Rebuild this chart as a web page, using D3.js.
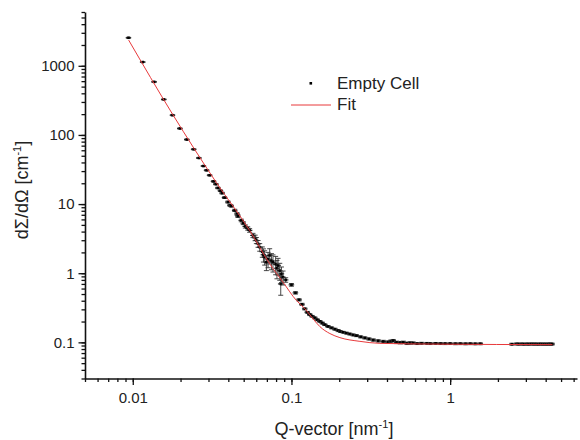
<!DOCTYPE html>
<html>
<head>
<meta charset="utf-8">
<script src="https://cdn.jsdelivr.net/npm/d3@7"></script>
<style>
body { margin: 0; background: #fff; }
text { font-family: "Liberation Sans", Arial, sans-serif; fill: #222; }
</style>
</head>
<body>
<div id="chart"></div>
<script>
var width = 580,
	height = 440;

// measured points: q [nm^-1], intensity [cm^-1], intensity error
var qValues = [0.0094, 0.01155, 0.01363, 0.01568, 0.0178, 0.0198, 0.0219, 0.0242, 0.0261, 0.0279,
	0.0292, 0.0305, 0.0323, 0.0334, 0.0344, 0.0357, 0.0366, 0.0379, 0.0398, 0.041,
	0.0418, 0.0439, 0.0454, 0.046, 0.0483, 0.0497, 0.0512, 0.053, 0.0545, 0.0572,
	0.059, 0.0601, 0.0616, 0.0631, 0.0655, 0.0666, 0.0678, 0.0695, 0.0712, 0.0729,
	0.0748, 0.0765, 0.0795, 0.081, 0.0823, 0.0844, 0.0856, 0.0865, 0.0885, 0.092,
	0.1, 0.106, 0.1117, 0.1165, 0.1213, 0.126, 0.1305, 0.135, 0.1403, 0.1455,
	0.151, 0.1565, 0.1623, 0.17, 0.179, 0.188, 0.197, 0.204, 0.212, 0.222,
	0.233, 0.245, 0.257, 0.273, 0.29, 0.308, 0.328, 0.352, 0.379, 0.405,
	0.423, 0.438, 0.46, 0.485, 0.507, 0.535, 0.56, 0.586, 0.62, 0.66,
	0.713, 0.75, 0.81, 0.87, 0.93, 1.0, 1.08, 1.16, 1.25, 1.34,
	1.44, 1.55, 2.45, 2.62, 2.71, 2.83, 2.92, 3.04, 3.13, 3.25,
	3.36, 3.47, 3.58, 3.7, 3.82, 3.94, 4.06, 4.18, 4.29, 4.39];
var intensity = [2545, 1132, 586, 326, 193, 124, 85.8, 62, 46.4, 35.5,
	30.8, 26.1, 21.3, 19.4, 17.1, 15.6, 14.4, 12.4, 10.7, 9.6,
	9.35, 8.11, 7.2, 6.7, 5.8, 5.3, 4.75, 4.45, 4.16, 3.52,
	3.25, 2.98, 2.67, 2.38, 2.05, 1.85, 1.71, 1.44, 1.6, 1.81,
	1.52, 1.44, 1.35, 1.18, 1.29, 1.09, 0.7, 0.98, 0.875, 0.8,
	0.679, 0.52, 0.412, 0.355, 0.305, 0.272, 0.252, 0.238, 0.226, 0.212,
	0.201, 0.19, 0.18, 0.17, 0.162, 0.155, 0.148, 0.143, 0.14, 0.136,
	0.132, 0.128, 0.125, 0.12, 0.116, 0.112, 0.108, 0.105, 0.103, 0.101,
	0.104, 0.106, 0.1, 0.099, 0.1, 0.097, 0.098, 0.098, 0.096, 0.097,
	0.0967, 0.096, 0.0965, 0.096, 0.0958, 0.096, 0.0955, 0.0957, 0.0953, 0.0956,
	0.0952, 0.0954, 0.094, 0.0948, 0.0944, 0.0947, 0.0942, 0.0946, 0.0943, 0.0948,
	0.0944, 0.0946, 0.0942, 0.0947, 0.0943, 0.0945, 0.0942, 0.0946, 0.0944, 0.0945];
var intensityErr = [35, 16, 8, 5, 3, 2, 1.4, 1, 0.8, 0.6,
	0.6, 0.5, 0.5, 0.4, 0.4, 0.4, 0.4, 0.35, 0.35, 0.3,
	0.3, 0.3, 0.3, 0.3, 0.25, 0.25, 0.25, 0.25, 0.25, 0.25,
	0.3, 0.3, 0.3, 0.3, 0.35, 0.4, 0.4, 0.35, 0.4, 0.45,
	0.4, 0.4, 0.4, 0.35, 0.35, 0.3, 0.22, 0.25, 0.2, 0.06,
	0.03, 0.02, 0.015, 0.012, 0.01, 0.008, 0.008, 0.007, 0.007, 0.006,
	0.006, 0.006, 0.005, 0.005, 0.005, 0.005, 0.005, 0.004, 0.004, 0.004,
	0.004, 0.004, 0.004, 0.004, 0.004, 0.004, 0.004, 0.004, 0.004, 0.004,
	0.004, 0.004, 0.004, 0.004, 0.004, 0.004, 0.004, 0.003, 0.003, 0.003,
	0.003, 0.003, 0.003, 0.003, 0.003, 0.003, 0.003, 0.003, 0.003, 0.003,
	0.003, 0.003, 0.003, 0.003, 0.003, 0.003, 0.003, 0.003, 0.003, 0.003,
	0.003, 0.003, 0.003, 0.003, 0.003, 0.003, 0.003, 0.003, 0.003, 0.003];
var qResolution = 0.04; // relative horizontal error

// fit curve
var fitQ = [0.00942, 0.0178, 0.0336, 0.0545, 0.0729, 0.0885, 0.1076, 0.1213, 0.137, 0.151,
	0.1746, 0.202, 0.27, 0.361, 0.865, 4.41];
var fitI = [2356, 200, 20.5, 4.16, 1.37, 0.741, 0.402, 0.308, 0.218, 0.169,
	0.134, 0.117, 0.1034, 0.0967, 0.0942, 0.0926];

var xTicks = [0.01, 0.1, 1];
var yTicks = [0.1, 1, 10, 100, 1000];
var legendLabels = ["Empty Cell", "Fit"];

var fitColor = "#e8393b";

var svg = d3.select("#chart").append("svg")
	.attr("width", width)
	.attr("height", height);

var x = d3.scaleLog().domain([0.005, 6.3]).range([85, 577]);
var y = d3.scaleLog().domain([0.03, 6000]).range([378.5, 12]);

// minor ticks
svg.append("g")
	.attr("transform", "translate(0,378.5)")
	.call(d3.axisBottom(x).tickValues(x.ticks()).tickSize(3.5).tickFormat(""))
	.call(function(g) { g.select(".domain").remove(); });
svg.append("g")
	.attr("transform", "translate(85,0)")
	.call(d3.axisLeft(y).tickValues(y.ticks()).tickSize(3.5).tickFormat(""))
	.call(function(g) { g.select(".domain").remove(); });

// major ticks and labels
var xAxis = svg.append("g")
	.attr("transform", "translate(0,378.5)")
	.call(d3.axisBottom(x).tickValues(xTicks).tickSize(6.5).tickSizeOuter(0)
		.tickPadding(7).tickFormat(d3.format("~g")));
var yAxis = svg.append("g")
	.attr("transform", "translate(85,0)")
	.call(d3.axisLeft(y).tickValues(yTicks).tickSize(6.5).tickSizeOuter(0)
		.tickPadding(4).tickFormat(d3.format("~g")));

svg.selectAll(".tick line").attr("stroke", "#111").attr("stroke-width", 1.3);
svg.selectAll(".domain").attr("stroke", "#111").attr("stroke-width", 1.6);
svg.selectAll(".tick text").style("font-size", "15px").attr("fill", "#222");

// fit curve
var fitLine = d3.line()
	.x(function(d, i) { return x(fitQ[i]); })
	.y(function(d, i) { return y(fitI[i]); })
	.curve(d3.curveMonotoneX);

// data points with error bars
var points = svg.append("g")
	.selectAll("g")
	.data(qValues)
	.enter()
	.append("g");

points.append("line")
	.attr("x1", function(d) { return x(d * (1 - qResolution)); })
	.attr("x2", function(d) { return x(d * (1 + qResolution)); })
	.attr("y1", function(d, i) { return y(intensity[i]); })
	.attr("y2", function(d, i) { return y(intensity[i]); })
	.attr("stroke", "#222")
	.attr("stroke-width", 1.2);

points.append("line")
	.attr("x1", function(d) { return x(d); })
	.attr("x2", function(d) { return x(d); })
	.attr("y1", function(d, i) { return y(intensity[i] - intensityErr[i]); })
	.attr("y2", function(d, i) { return y(intensity[i] + intensityErr[i]); })
	.attr("stroke", "#333")
	.attr("stroke-width", 0.9);

[-1, 1].forEach(function(s) {
	points.append("line")
		.attr("x1", function(d) { return x(d) - 2.5; })
		.attr("x2", function(d) { return x(d) + 2.5; })
		.attr("y1", function(d, i) { return y(intensity[i] + s * intensityErr[i]); })
		.attr("y2", function(d, i) { return y(intensity[i] + s * intensityErr[i]); })
		.attr("stroke", "#333")
		.attr("stroke-width", 0.9);
});

points.append("rect")
	.attr("x", function(d) { return x(d) - 1.3; })
	.attr("y", function(d, i) { return y(intensity[i]) - 1.3; })
	.attr("width", 2.6)
	.attr("height", 2.6)
	.attr("fill", "#000");

svg.append("path")
	.datum(fitQ)
	.attr("d", fitLine)
	.attr("fill", "none")
	.attr("stroke", fitColor)
	.attr("stroke-width", 1);

// axis titles
var xTitle = svg.append("text")
	.attr("x", 334)
	.attr("y", 435)
	.attr("text-anchor", "middle")
	.style("font-size", "18px");
xTitle.append("tspan").text("Q-vector [nm");
xTitle.append("tspan").attr("dy", -7).style("font-size", "11px").text("-1");
xTitle.append("tspan").attr("dy", 7).text("]");

var yTitle = svg.append("text")
	.attr("transform", "translate(28,190) rotate(-90)")
	.attr("text-anchor", "middle")
	.style("font-size", "18px");
yTitle.append("tspan").text("d\u03a3/d\u03a9 [cm");
yTitle.append("tspan").attr("dy", -7).style("font-size", "11px").text("-1");
yTitle.append("tspan").attr("dy", 7).text("]");

// legend
var legend = svg.append("g");
legend.append("rect")
	.attr("x", 309.5).attr("y", 82).attr("width", 2.6).attr("height", 2.6)
	.attr("fill", "#000");
legend.append("line")
	.attr("x1", 291).attr("x2", 331).attr("y1", 105).attr("y2", 105)
	.attr("stroke", fitColor).attr("stroke-width", 1);
legend.selectAll("text")
	.data(legendLabels)
	.enter()
	.append("text")
	.attr("x", 337)
	.attr("y", function(d, i) { return 89 + i * 21; })
	.style("font-size", "17px")
	.text(function(d) { return d; });
</script>
</body>
</html>
